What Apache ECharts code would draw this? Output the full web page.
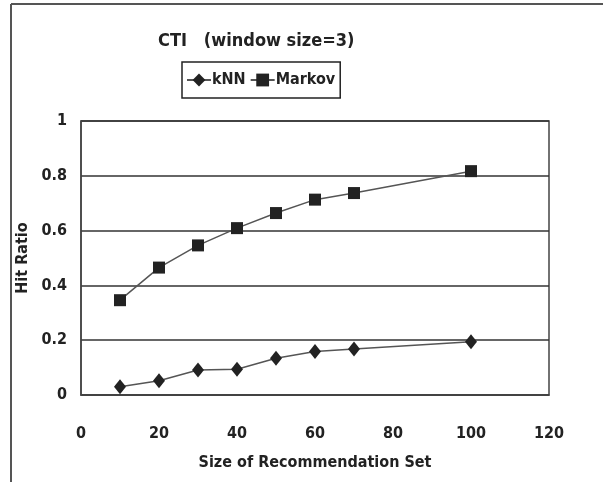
<!DOCTYPE html>
<html><head><meta charset="utf-8">
<script src="https://cdn.jsdelivr.net/npm/echarts@6/dist/echarts.min.js"></script>
<style>html,body{margin:0;padding:0;background:#fff}#c{width:603px;height:482px}</style>
</head><body><div id="c"></div>
<script>
const sizes = [10, 20, 30, 40, 50, 60, 70, 100];
const knn = [0.030, 0.052, 0.091, 0.094, 0.134, 0.159, 0.168, 0.194];
const markov = [0.346, 0.465, 0.546, 0.609, 0.664, 0.713, 0.737, 0.817];
const FONT = '"DejaVu Sans Condensed","Liberation Sans Narrow","Liberation Sans",sans-serif';
const chart = echarts.init(document.getElementById('c'));
chart.setOption({
  animation: false,
  backgroundColor: '#fff',
  title: { text: 'CTI   (window size=3)', left: 153, top: 27,
    textStyle: { fontFamily: FONT, fontSize: 18, fontWeight: 'bold', color: '#222' } },
  legend: { top: 62, left: 182, itemWidth: 24, itemHeight: 16, itemGap: 4,
    borderColor: '#222', borderWidth: 1.5, padding: [10, 5, 10, 4],
    textStyle: { fontFamily: FONT, fontSize: 16, fontWeight: 'bold', color: '#222', padding: [0,0,0,-4] },
    data: ['kNN', 'Markov'] },
  grid: { left: 81, right: 54, top: 121, bottom: 87, show: true, borderColor: '#444', borderWidth: 1.5 },
  xAxis: { type: 'value', min: 0, max: 120, interval: 20,
    name: 'Size of Recommendation Set', nameLocation: 'middle', nameGap: 60,
    nameTextStyle: { fontFamily: FONT, fontSize: 16, fontWeight: 'bold', color: '#222' },
    axisLine: { show: true, lineStyle: { color: '#444', width: 1.5 } }, axisTick: { show: false },
    splitLine: { show: false },
    axisLabel: { margin: 31, fontFamily: FONT, fontSize: 16, fontWeight: 'bold', color: '#222' } },
  yAxis: { type: 'value', min: 0, max: 1, interval: 0.2,
    name: 'Hit Ratio', nameLocation: 'middle', nameGap: 45, nameRotate: 90,
    nameTextStyle: { fontFamily: FONT, fontSize: 16, fontWeight: 'bold', color: '#222' },
    axisLine: { show: true, lineStyle: { color: '#444', width: 1.5 } }, axisTick: { show: false },
    splitLine: { show: true, lineStyle: { color: '#333', width: 1.5 } },
    axisLabel: { margin: 14, fontFamily: FONT, fontSize: 16, fontWeight: 'bold', color: '#222' } },
  series: [
    { name: 'kNN', type: 'line', data: sizes.map((s, i) => [s, knn[i]]),
      symbol: 'diamond', symbolSize: [12, 15], itemStyle: { color: '#222' },
      lineStyle: { color: '#555', width: 1.5 } },
    { name: 'Markov', type: 'line', data: sizes.map((s, i) => [s, markov[i]]),
      symbol: 'rect', symbolSize: 12, itemStyle: { color: '#222' },
      lineStyle: { color: '#555', width: 1.5 } }
  ],
  graphic: [
    { type: 'line', shape: { x1: 11, y1: 4, x2: 603, y2: 4 }, style: { stroke: '#555', lineWidth: 2 } },
    { type: 'line', shape: { x1: 11, y1: 4, x2: 11, y2: 482 }, style: { stroke: '#555', lineWidth: 2 } }
  ]
});
</script></body></html>
